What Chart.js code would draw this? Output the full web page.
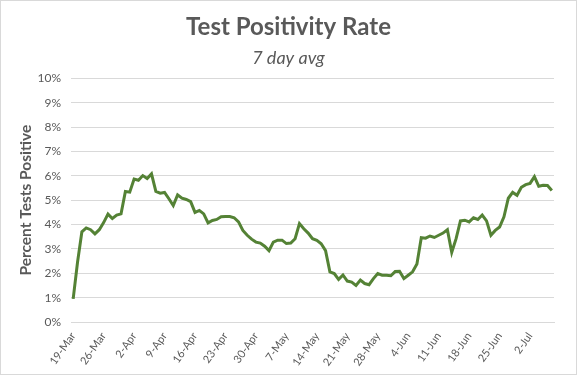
<!DOCTYPE html>
<html>
<head>
<meta charset="utf-8">
<script src="https://cdn.jsdelivr.net/npm/chart.js@4"></script>
<style>
  html, body { margin: 0; padding: 0; background: #ffffff; }
  #wrap { width: 577px; height: 375px; position: relative; }
</style>
</head>
<body>
<div id="wrap"><canvas id="c" width="577" height="375"></canvas></div>
<script>
const categories = [
  '19-Mar','20-Mar','21-Mar','22-Mar','23-Mar','24-Mar','25-Mar','26-Mar','27-Mar','28-Mar','29-Mar','30-Mar','31-Mar',
  '1-Apr','2-Apr','3-Apr','4-Apr','5-Apr','6-Apr','7-Apr','8-Apr','9-Apr','10-Apr','11-Apr','12-Apr','13-Apr','14-Apr','15-Apr',
  '16-Apr','17-Apr','18-Apr','19-Apr','20-Apr','21-Apr','22-Apr','23-Apr','24-Apr','25-Apr','26-Apr','27-Apr','28-Apr','29-Apr','30-Apr',
  '1-May','2-May','3-May','4-May','5-May','6-May','7-May','8-May','9-May','10-May','11-May','12-May','13-May','14-May','15-May',
  '16-May','17-May','18-May','19-May','20-May','21-May','22-May','23-May','24-May','25-May','26-May','27-May','28-May','29-May',
  '30-May','31-May',
  '1-Jun','2-Jun','3-Jun','4-Jun','5-Jun','6-Jun','7-Jun','8-Jun','9-Jun','10-Jun','11-Jun','12-Jun','13-Jun','14-Jun','15-Jun',
  '16-Jun','17-Jun','18-Jun','19-Jun','20-Jun','21-Jun','22-Jun','23-Jun','24-Jun','25-Jun','26-Jun','27-Jun','28-Jun','29-Jun','30-Jun',
  '1-Jul','2-Jul','3-Jul','4-Jul','5-Jul','6-Jul','7-Jul'
];

const tickLabels = ['19-Mar','26-Mar','2-Apr','9-Apr','16-Apr','23-Apr','30-Apr','7-May','14-May','21-May','28-May','4-Jun','11-Jun','18-Jun','25-Jun','2-Jul'];

const positivityRate = [
  0.95, 2.45, 3.70, 3.86, 3.79, 3.62, 3.79, 4.08, 4.43, 4.25, 4.39, 4.44, 5.36,
  5.33, 5.87, 5.82, 6.01, 5.89, 6.08, 5.36, 5.29, 5.32, 5.06, 4.78, 5.22, 5.08, 5.03, 4.94,
  4.50, 4.58, 4.44, 4.07, 4.17, 4.21, 4.32, 4.33, 4.33, 4.28, 4.11, 3.76, 3.56, 3.40, 3.28,
  3.24, 3.11, 2.93, 3.28, 3.36, 3.36, 3.22, 3.24, 3.42, 4.04, 3.83, 3.65, 3.42, 3.35, 3.21,
  2.93, 2.06, 1.99, 1.75, 1.93, 1.68, 1.64, 1.50, 1.72, 1.58, 1.53, 1.78, 1.99, 1.92,
  1.92, 1.90,
  2.07, 2.08, 1.78, 1.92, 2.06, 2.38, 3.46, 3.44, 3.53, 3.47, 3.56, 3.65, 3.79, 2.86, 3.42,
  4.15, 4.18, 4.11, 4.28, 4.21, 4.39, 4.15, 3.56, 3.76, 3.90, 4.32, 5.08, 5.32, 5.20, 5.53,
  5.64, 5.69, 5.97, 5.57, 5.61, 5.60, 5.40
];

const yTicks = [0, 1, 2, 3, 4, 5, 6, 7, 8, 9, 10];

const TEXT = '#595959';
const GRID = '#d9d9d9';

const borderPlugin = {
  id: 'outerBorder',
  afterDraw(chart) {
    const ctx = chart.ctx;
    ctx.save();
    ctx.strokeStyle = GRID;
    ctx.lineWidth = 1;
    ctx.strokeRect(0.5, 0.5, chart.width - 1, chart.height - 1);
    ctx.restore();
  }
};

new Chart(document.getElementById('c'), {
  type: 'line',
  data: {
    labels: categories,
    datasets: [{
      label: 'Test Positivity Rate',
      data: positivityRate,
      borderColor: '#548235',
      borderWidth: 3,
      pointRadius: 0,
      tension: 0,
      fill: false,
      yAxisID: 'y'
    }]
  },
  options: {
    responsive: false,
    animation: false,
    layout: { padding: { top: 0, left: 0, right: 0, bottom: 0 } },
    plugins: {
      legend: { display: false },
      tooltip: { enabled: false },
      title: {
        display: true,
        text: 'Test Positivity Rate',
        color: TEXT,
        font: { family: 'Lato', size: 24, weight: 'bold' },
        padding: { top: 13, bottom: 3 }
      },
      subtitle: {
        display: true,
        text: '7 day avg',
        color: TEXT,
        font: { family: 'Lato', size: 18, style: 'italic' },
        padding: { top: 3, bottom: 9 }
      }
    },
    scales: {
      x: {
        type: 'category',
        offset: true,
        grid: { display: false, drawTicks: false },
        border: { display: true, color: GRID, width: 1 },
        ticks: {
          autoSkip: false,
          minRotation: 55,
          maxRotation: 55,
          padding: 8,
          color: TEXT,
          font: { family: 'Lato', size: 11 },
          callback: function(value, index) {
            const lab = categories[index];
            return tickLabels.includes(lab) ? lab : '';
          }
        },
        afterFit(scale) { scale.height = 53; }
      },
      y: {
        min: 0,
        max: 10,
        afterBuildTicks(scale) { scale.ticks = yTicks.map(v => ({ value: v })); },
        grid: { color: GRID, drawTicks: false, lineWidth: 1 },
        border: { display: false },
        ticks: {
          padding: 10,
          color: TEXT,
          font: { family: 'Lato', size: 12 },
          callback: v => v + '%'
        },
        title: {
          display: true,
          text: 'Percent Tests Positive',
          color: TEXT,
          font: { family: 'Lato', size: 15.5, weight: 'bold' },
          padding: { top: 17, bottom: 0 }
        },
        afterFit(scale) { scale.width = 71; }
      },
      ySpacer: {
        position: 'right',
        display: true,
        min: 0,
        max: 10,
        grid: { display: false, drawTicks: false },
        border: { display: false },
        ticks: { display: false },
        afterFit(scale) { scale.width = 23; }
      }
    }
  },
  plugins: [borderPlugin]
});
</script>
</body>
</html>
